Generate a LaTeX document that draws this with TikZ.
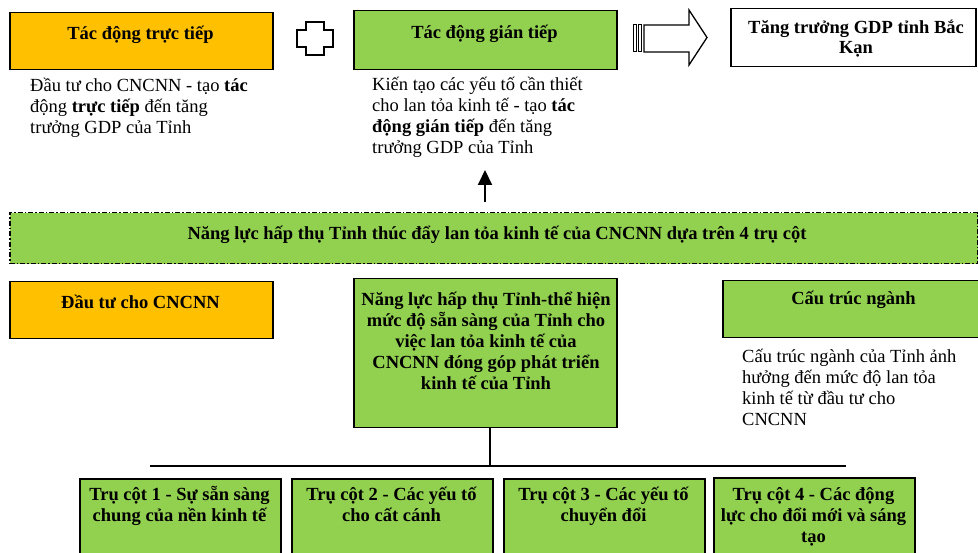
\documentclass[tikz,border=0pt]{standalone}
\usepackage{fontspec}
\setmainfont{Liberation Serif}
\usetikzlibrary{arrows.meta}
\definecolor{orng}{HTML}{FFC000}
\definecolor{grn}{HTML}{92D050}
\newcommand{\fl}{\rule{0pt}{18pt}}
\begin{document}
\begin{tikzpicture}[x=1pt,y=-1pt,
  box/.style={draw=black, line width=1.5pt, rectangle, inner sep=0pt, anchor=north west},
  ttl/.style={font=\fontsize{18.5}{21}\selectfont\bfseries, inner sep=0pt, align=center},
  body/.style={font=\fontsize{18.5}{21}\selectfont, inner sep=0pt, align=left, anchor=north west},
  sym/.style={draw=black, line width=1.3pt, fill=white, line join=miter},
  conn/.style={draw=black, line width=1.5pt},
]
\useasboundingbox (0,0) rectangle (978,553);
\clip (0,0) rectangle (978,553);

% top row
\node[box, fill=orng, minimum width=263pt, minimum height=57pt] (td) at (9,12) {};
\node[ttl, anchor=base] (tdt) at (140.5,40) {Tác động trực tiếp};

\draw[sym] (306,22) -- (324,22) -- (324,30) -- (333,30) -- (333,47) -- (324,47) -- (324,55) -- (306,55) -- (306,47) -- (297,47) -- (297,30) -- (306,30) -- cycle;

\node[box, fill=grn, minimum width=263pt, minimum height=59pt] (tg) at (353,10) {};
\node[ttl, anchor=base] (tgt) at (484.5,39) {Tác động gián tiếp};

\draw[sym, line width=1pt] (633,25) rectangle (636,52);
\draw[sym, line width=1pt] (638,25) rectangle (641,52);
\draw[sym] (644,25) -- (689,25) -- (689,10) -- (707,37.5) -- (689,65) -- (689,52) -- (644,52) -- cycle;

\node[box, fill=white, minimum width=245pt, minimum height=58pt] (gdp) at (730,8) {};
\node[ttl, anchor=north, font=\fontsize{18.5}{20}\selectfont\bfseries] (gdpt) at (856,15) {\fl Tăng trưởng GDP tỉnh Bắc\\Kạn};

\node[body] (tdb) at (30,73.5) {\fl Đầu tư cho CNCNN - tạo \textbf{tác}\\động \textbf{trực tiếp} đến tăng\\trưởng GDP của Tỉnh};
\node[body] (tgb) at (372,72.7) {\fl Kiến tạo các yếu tố cần thiết\\cho lan tỏa kinh tế - tạo \textbf{tác}\\\textbf{động gián tiếp} đến tăng\\trưởng GDP của Tỉnh};

% banner
\node[box, fill=grn, line width=1.5pt, dash pattern=on 5pt off 2pt on 1.5pt off 2pt, minimum width=968pt, minimum height=51pt] (ban) at (9,212) {};
\node[ttl, anchor=base] (bant) at (497,240) {Năng lực hấp thụ Tỉnh thúc đẩy lan tỏa kinh tế của CNCNN dựa trên 4 trụ cột};
\coordinate (upb) at (485,202);
\coordinate (upt) at (485,170);
\draw[line width=2pt, -{Triangle[width=14pt,length=15pt]}] (upb) -- (upt);

% middle row
\node[box, fill=orng, minimum width=263pt, minimum height=57pt] (dt) at (9,281) {};
\node[ttl, anchor=base] (dtt) at (140.5,309) {Đầu tư cho CNCNN};

\node[box, fill=grn, minimum width=263pt, minimum height=149pt] (cen) at (353,278) {};
\node[ttl, anchor=north] (cent) at (486,287) {\fl Năng lực hấp thụ Tỉnh-thể hiện\\mức độ sẵn sàng của Tỉnh cho\\việc lan tỏa kinh tế của\\CNCNN đóng góp phát triển\\kinh tế của Tỉnh};

\node[box, fill=grn, minimum width=257pt, minimum height=57pt] (ctn) at (722,280) {};
\node[ttl, anchor=base] (ctnt) at (853.5,305) {Cấu trúc ngành};
\node[body] (ctnb) at (742,344) {\fl Cấu trúc ngành của Tỉnh ảnh\\hưởng đến mức độ lan tỏa\\kinh tế từ đầu tư cho\\CNCNN};

% connectors
\coordinate (jn) at (490,466);
\coordinate (hl) at (150,466);
\coordinate (hr) at (846,466);
\draw[conn] (cen.south -| jn) -- (jn);
\draw[conn] (hl) -- (hr);

% pillars
\node[box, fill=grn, minimum width=201pt, minimum height=90pt] (p1) at (79,478) {};
\node[ttl, anchor=north] (p1t) at (179.5,482) {\fl Trụ cột 1 - Sự sẵn sàng\\chung của nền kinh tế};
\node[box, fill=grn, minimum width=201pt, minimum height=90pt] (p2) at (291,478) {};
\node[ttl, anchor=north] (p2t) at (391.5,482) {\fl Trụ cột 2 - Các yếu tố\\cho cất cánh};
\node[box, fill=grn, minimum width=201pt, minimum height=90pt] (p3) at (503,478) {};
\node[ttl, anchor=north] (p3t) at (603.5,482) {\fl Trụ cột 3 - Các yếu tố\\chuyển đổi};
\node[box, fill=grn, minimum width=201pt, minimum height=90pt] (p4) at (713,477) {};
\node[ttl, anchor=north] (p4t) at (813.5,482) {\fl Trụ cột 4 - Các động\\lực cho đổi mới và sáng\\tạo};
\end{tikzpicture}
\end{document}
